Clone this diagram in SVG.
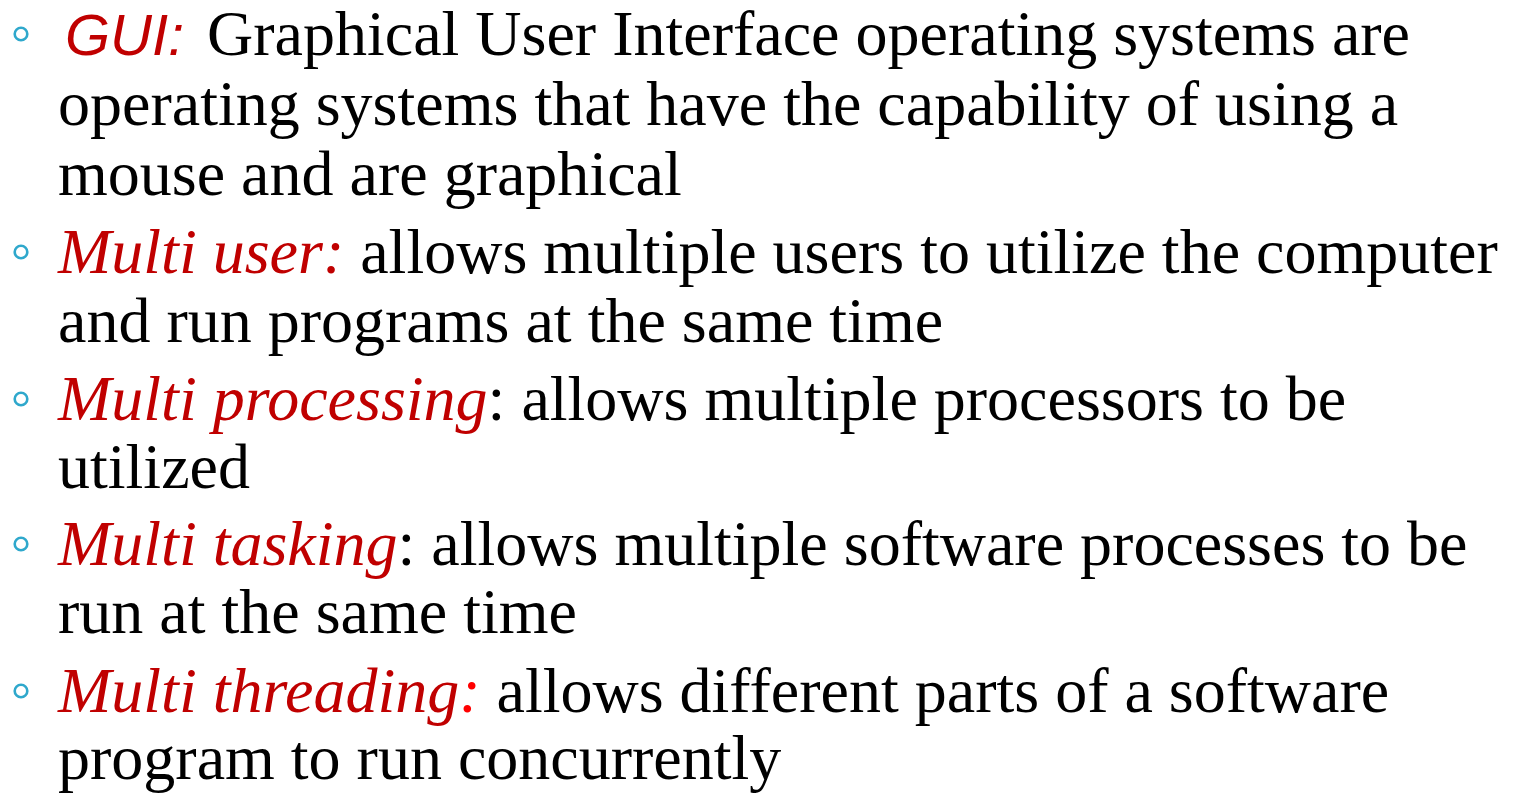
<svg xmlns="http://www.w3.org/2000/svg" width="1513" height="794" viewBox="0 0 1513 794">
  <style>
    .body { font-family: "Liberation Serif", "Times New Roman", serif; font-size: 64px; fill: #000000; }
    .term { font-style: italic; fill: #C00000; }
    .gui { font-family: "Liberation Sans", Arial, sans-serif; font-style: italic; font-size: 58px; fill: #C00000; }
    .hot { fill: #FF0000; }
    .bullet { fill: none; stroke: #2FA8CC; stroke-width: 2.6; }
  </style>
  <rect width="1513" height="794" fill="#FFFFFF"/>

  <!-- GUI -->
  <g id="item-gui">
    <circle class="bullet" cx="21" cy="34" r="6.3"/>
    <text class="body" x="58" y="55"><tspan class="gui" x="65">GUI:</tspan><tspan x="207">Graphical User Interface operating systems are</tspan></text>
    <text class="body" x="58" y="125">operating systems that have the capability of using a</text>
    <text class="body" x="58" y="195">mouse and are graphical</text>
  </g>

  <!-- Multi user -->
  <g id="item-multi-user">
    <circle class="bullet" cx="21" cy="252" r="6.3"/>
    <text class="body" x="58" y="273"><tspan class="term">Multi user:</tspan> allows multiple users to utilize the computer</text>
    <text class="body" x="58" y="342">and run programs at the same time</text>
  </g>

  <!-- Multi processing -->
  <g id="item-multi-processing">
    <circle class="bullet" cx="21" cy="399" r="6.3"/>
    <text class="body" x="58" y="420"><tspan class="term">Multi processing</tspan>: allows multiple processors to be</text>
    <text class="body" x="58" y="488">utilized</text>
  </g>

  <!-- Multi tasking -->
  <g id="item-multi-tasking">
    <circle class="bullet" cx="21" cy="544" r="6.3"/>
    <text class="body" x="58" y="565"><tspan class="term">Multi tasking</tspan>: allows multiple software processes to be</text>
    <text class="body" x="58" y="633">run at the same time</text>
  </g>

  <!-- Multi threading -->
  <g id="item-multi-threading">
    <circle class="bullet" cx="21" cy="691" r="6.3"/>
    <text class="body" x="58" y="712"><tspan class="term">Multi threading</tspan><tspan class="term hot">:</tspan> allows different parts of a software</text>
    <text class="body" x="58" y="779">program to run concurrently</text>
  </g>
</svg>
